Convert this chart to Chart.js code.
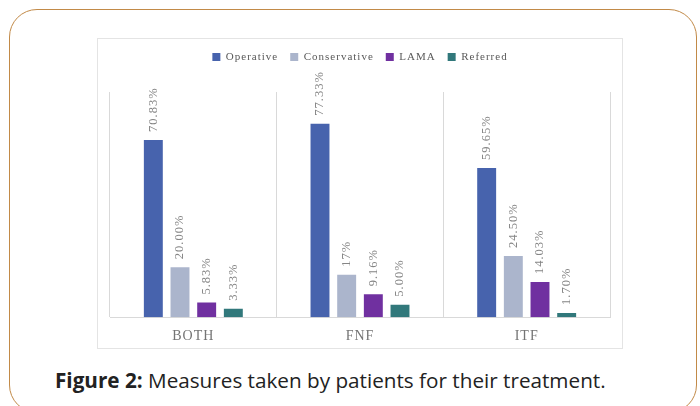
<!DOCTYPE html>
<html>
<head>
<meta charset="utf-8">
<script src="https://cdn.jsdelivr.net/npm/chart.js@4.4.1/dist/chart.umd.min.js"></script>
<style>
  html, body { margin: 0; padding: 0; background: #ffffff; width: 700px; height: 406px; overflow: hidden; }
  .card {
    position: absolute; left: 9px; top: 9px; width: 688px; height: 404px;
    box-sizing: border-box; border: 1.5px solid #c28a48; border-radius: 28px;
  }
  .frame {
    position: absolute; left: 97px; top: 38px; width: 526px; height: 311px;
    box-sizing: border-box; border: 1px solid #e4e4e4;
  }
  #chart { position: absolute; left: 97px; top: 38px; }
  .caption {
    position: absolute; left: 55px; top: 366px; white-space: nowrap;
    font-family: "Open Sans", sans-serif; font-size: 20.7px; color: #222222;
  }
  .caption b { font-weight: 700; }
</style>
</head>
<body>
<div class="card"></div>
<div class="frame"></div>
<canvas id="chart" width="526" height="311"></canvas>
<div class="caption"><b>Figure 2:</b> Measures taken by patients for their treatment.</div>
<script>
// Fracture groups and the share of patients per treatment measure
const categories = ['BOTH', 'FNF', 'ITF'];
const seriesNames = ['Operative', 'Conservative', 'LAMA', 'Referred'];
const operativeText = ['70.83%', '77.33%', '59.65%'];
const conservativeText = ['20.00%', '17%', '24.50%'];
const lamaText = ['5.83%', '9.16%', '14.03%'];
const referredText = ['3.33%', '5.00%', '1.70%'];
const operative = operativeText.map(parseFloat);
const conservative = conservativeText.map(parseFloat);
const lama = lamaText.map(parseFloat);
const referred = referredText.map(parseFloat);
const seriesColors = ['#4763ad', '#abb5cc', '#7030a0', '#31787b'];

const valueTexts = [operativeText, conservativeText, lamaText, referredText];
const valueArrays = [operative, conservative, lama, referred];

// Slightly tracked-out lettering for every text on the canvas
const letterTracking = {
  id: 'letterTracking',
  beforeUpdate(chart) { chart.ctx.letterSpacing = '1px'; },
  beforeDraw(chart) { chart.ctx.letterSpacing = '1px'; }
};

// Rotated value labels above each bar
const barValueLabels = {
  id: 'barValueLabels',
  afterDatasetsDraw(chart) {
    const ctx = chart.ctx;
    chart.data.datasets.forEach((ds, di) => {
      const meta = chart.getDatasetMeta(di);
      meta.data.forEach((bar, i) => {
        ctx.save();
        ctx.translate(bar.x, bar.y - 8);
        ctx.rotate(-Math.PI / 2);
        ctx.font = '12.5px "Liberation Serif", serif';
        ctx.fillStyle = '#858585';
        ctx.textAlign = 'left';
        ctx.textBaseline = 'middle';
        ctx.fillText(valueTexts[di][i], 0, 0);
        ctx.restore();
      });
    });
  }
};

// Empty band between the legend and the plot
const legendGap = {
  id: 'legendGap',
  start(chart) {
    Chart.layouts.addBox(chart, {
      position: 'top',
      weight: 500,
      fullSize: true,
      options: {},
      left: 0, top: 0, right: 0, bottom: 0, width: 0, height: 0,
      isHorizontal() { return true; },
      update(maxWidth) { this.width = maxWidth; this.height = 19.5; return this.height; },
      draw() {}
    });
  }
};

new Chart(document.getElementById('chart'), {
  type: 'bar',
  data: {
    labels: categories,
    datasets: seriesNames.map((name, i) => ({
      label: name,
      data: valueArrays[i],
      backgroundColor: seriesColors[i],
      borderWidth: 0,
      categoryPercentage: 0.64,
      barPercentage: 0.71
    }))
  },
  options: {
    responsive: false,
    animation: false,
    devicePixelRatio: 1,
    layout: { padding: { left: 13, right: 13, top: 1.5, bottom: -7 } },
    plugins: {
      legend: {
        position: 'top',
        labels: {
          boxWidth: 8,
          boxHeight: 8,
          padding: 12,
          color: '#595959',
          font: { family: '"Liberation Serif", serif', size: 11 }
        }
      },
      tooltip: { enabled: false }
    },
    scales: {
      x: {
        grid: { color: '#d9d9d9', offset: true, drawTicks: false },
        border: { color: '#d9d9d9' },
        ticks: {
          padding: 11,
          color: '#747474',
          font: { family: '"Liberation Serif", serif', size: 14 }
        }
      },
      y: { display: false, min: 0, max: 90 }
    }
  },
  plugins: [letterTracking, barValueLabels, legendGap]
});
</script>
</body>
</html>
